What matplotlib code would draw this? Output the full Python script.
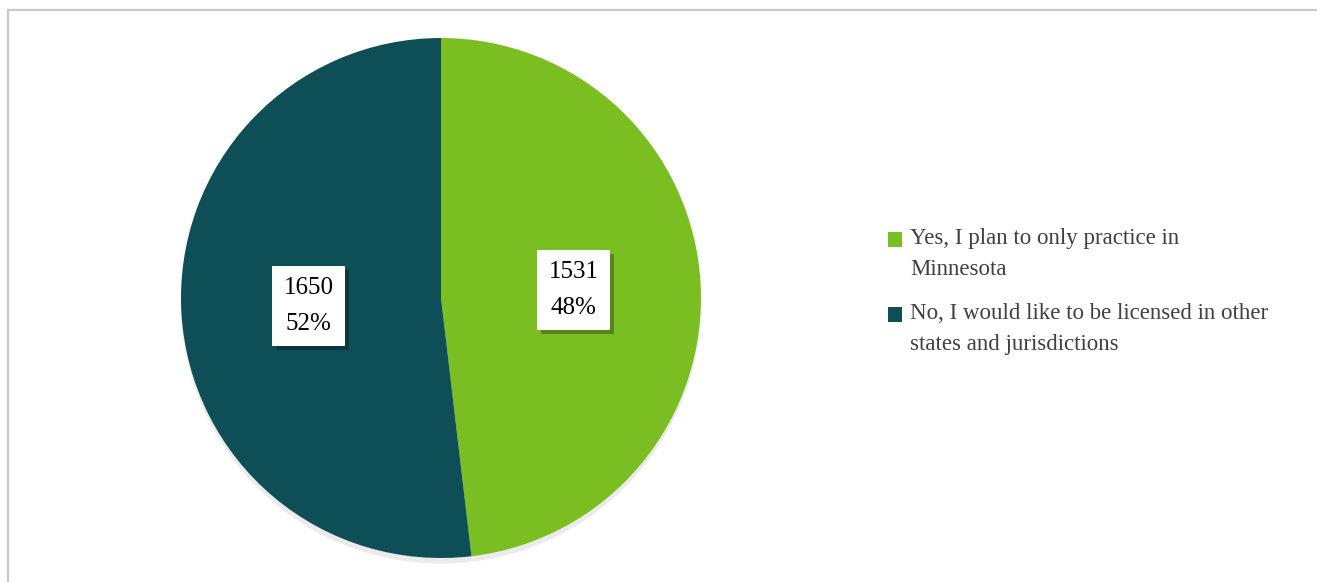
import matplotlib.pyplot as plt
import matplotlib.patheffects as pe
from matplotlib.patches import Rectangle
import numpy as np

# ------------------ Data ------------------
labels = ["Yes, I plan to only practice in\nMinnesota",
          "No, I would like to be licensed in other\nstates and jurisdictions"]
counts = [1531, 1650]
colors = ["#7BBE22", "#0E4F57"]

plt.rcParams["font.family"] = ["Liberation Serif", "DejaVu Serif"]

W, H = 1317, 582
fig = plt.figure(figsize=(W / 100, H / 100), dpi=100)

# chart border (runs off the right and bottom edges)
fig.patches.append(Rectangle((7.5 / W, -0.1), 1.2, 1 - 9.5 / H + 0.1,
                             transform=fig.transFigure, fill=False,
                             edgecolor="#c9c9c9", linewidth=1.6))

# ------------------ Pie ------------------
cx, cy, r = 441, H - 298, 260
L = 1.08
ax = fig.add_axes([(cx - r * L) / W, (cy - r * L) / H, 2 * r * L / W, 2 * r * L / H])

total = sum(counts)
wedges, _ = ax.pie(counts, colors=colors, startangle=90, counterclock=False,
                   radius=1, wedgeprops=dict(linewidth=0))
for w in wedges:
    w.set_path_effects([pe.SimplePatchShadow(offset=(0, -4), shadow_rgbFace="#000000", alpha=0.08),
                        pe.Normal()])

ang = 90.0
for c, w in zip(counts, wedges):
    span = 360.0 * c / total
    mid = np.deg2rad(ang - span / 2)
    ang -= span
    t = ax.text(0.51 * np.cos(mid), 0.51 * np.sin(mid),
                f"{c}\n{round(100 * c / total)}%",
                ha="center", va="center", multialignment="center",
                fontsize=18, linespacing=1.8,
                bbox=dict(boxstyle="square,pad=0.45", facecolor="white", edgecolor="none"))
    t.get_bbox_patch().set_path_effects([pe.SimplePatchShadow(offset=(3, -3), shadow_rgbFace="#000000",
                                                              alpha=0.3),
                                         pe.Normal()])

ax.set_xlim(-L, L)
ax.set_ylim(-L, L)
ax.set_aspect("equal")
ax.axis("off")

# ------------------ Legend ------------------
ys = [232, 307]
for lab, col, yt in zip(labels, colors, ys):
    fig.patches.append(Rectangle((888 / W, (H - yt - 15) / H), 14 / W, 15 / H,
                                 transform=fig.transFigure, facecolor=col,
                                 edgecolor="none"))
    fig.text(910 / W, (H - yt + 4) / H, lab, ha="left", va="top",
             fontsize=16.5, color="#404040", linespacing=1.62)

fig.savefig("out.png", dpi=100, facecolor="white")
